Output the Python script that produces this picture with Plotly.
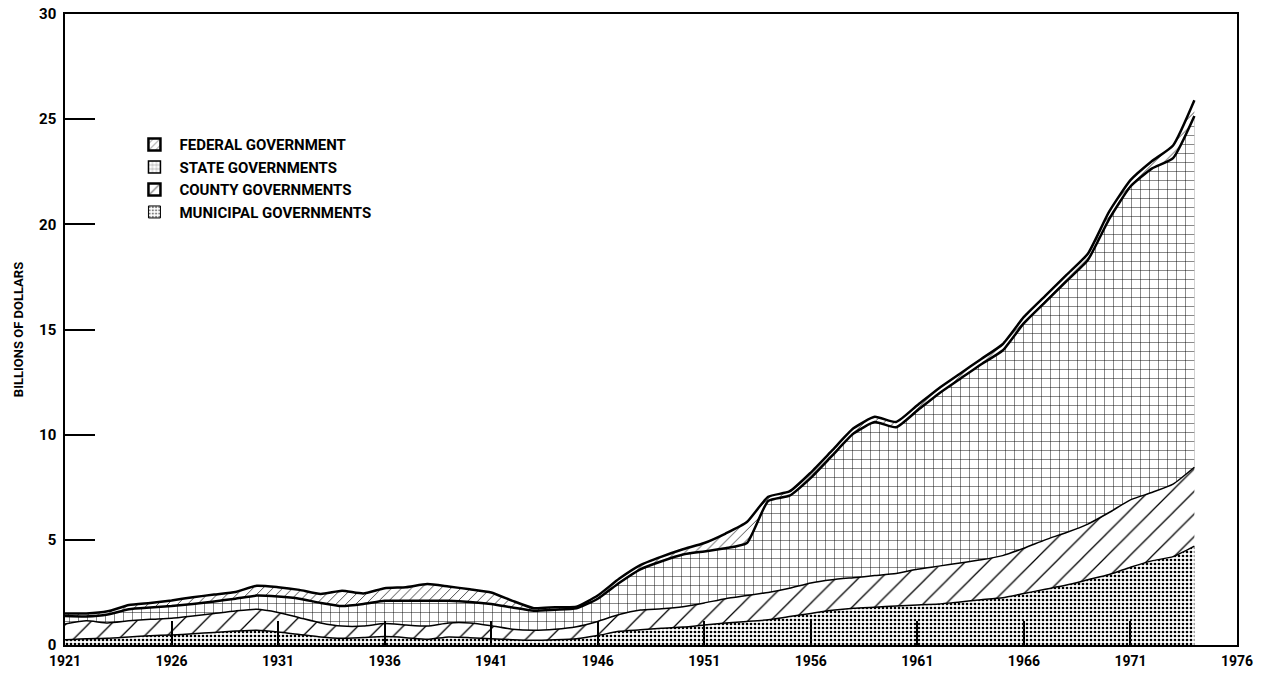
import plotly.graph_objects as go

years = list(range(1921, 1975))

municipal = [0.25, 0.30, 0.32, 0.38, 0.44, 0.48, 0.53, 0.60, 0.66, 0.70,
             0.62, 0.50, 0.38, 0.32, 0.36, 0.40, 0.35, 0.27, 0.38, 0.35,
             0.30, 0.25, 0.22, 0.25, 0.30, 0.45, 0.65, 0.72, 0.80, 0.85,
             0.95, 1.05, 1.12, 1.20, 1.35, 1.50, 1.65, 1.75, 1.80, 1.85,
             1.90, 1.95, 2.05, 2.15, 2.25, 2.45, 2.65, 2.85, 3.10, 3.35,
             3.70, 4.00, 4.20, 4.70]
county = [0.75, 0.85, 0.73, 0.77, 0.78, 0.79, 0.85, 0.90, 0.96, 1.00,
          0.93, 0.80, 0.67, 0.58, 0.54, 0.62, 0.60, 0.63, 0.67, 0.70,
          0.62, 0.50, 0.48, 0.50, 0.57, 0.67, 0.80, 0.94, 0.92, 0.97,
          1.05, 1.15, 1.23, 1.30, 1.35, 1.45, 1.45, 1.45, 1.50, 1.55,
          1.70, 1.80, 1.85, 1.90, 2.00, 2.15, 2.35, 2.50, 2.65, 2.95,
          3.20, 3.25, 3.45, 3.75]
state = [0.38, 0.21, 0.40, 0.55, 0.56, 0.58, 0.57, 0.57, 0.58, 0.65,
         0.75, 0.90, 0.95, 0.95, 1.05, 1.08, 1.15, 1.20, 1.05, 1.00,
         1.03, 1.03, 0.93, 0.93, 0.87, 1.08, 1.50, 1.94, 2.26, 2.48,
         2.45, 2.40, 2.50, 4.35, 4.40, 5.00, 5.90, 6.85, 7.30, 6.95,
         7.55, 8.20, 8.75, 9.30, 9.75, 10.70, 11.30, 11.95, 12.55, 13.95,
         14.90, 15.40, 15.50, 16.70]
federal = [0.12, 0.14, 0.15, 0.20, 0.22, 0.27, 0.32, 0.33, 0.32, 0.47,
           0.45, 0.42, 0.43, 0.73, 0.50, 0.60, 0.65, 0.80, 0.68, 0.60,
           0.55, 0.32, 0.12, 0.12, 0.08, 0.15, 0.20, 0.20, 0.22, 0.25,
           0.40, 0.70, 1.00, 0.20, 0.20, 0.25, 0.25, 0.25, 0.25, 0.25,
           0.25, 0.25, 0.25, 0.25, 0.30, 0.30, 0.30, 0.30, 0.30, 0.35,
           0.30, 0.35, 0.60, 0.75]

series_names = ["MUNICIPAL GOVERNMENTS", "COUNTY GOVERNMENTS",
                "STATE GOVERNMENTS", "FEDERAL GOVERNMENT"]

x_ticks = list(range(1921, 1977, 5))
y_ticks = [0, 5, 10, 15, 20, 25, 30]

FONT = "Roboto, Liberation Sans, Arial, sans-serif"

styles = [
    dict(shape=".", size=4, solidity=0.35, lw=1.5, leg_size=4, leg_sol=0.35, leg_lw=1),
    dict(shape="/", size=16, solidity=0.08, lw=1.5, leg_size=12, leg_sol=0.15, leg_lw=2.5),
    dict(shape="+", size=9, solidity=0.1, lw=2.5, leg_size=5, leg_sol=0.2, leg_lw=1.5),
    dict(shape="/", size=7, solidity=0.1, lw=2.5, leg_size=6, leg_sol=0.2, leg_lw=2.5),
]

fig = go.Figure()
for name, vals, st in zip(series_names, [municipal, county, state, federal], styles):
    fig.add_trace(go.Scatter(
        x=years, y=vals, name=name, mode="lines",
        stackgroup="gov", showlegend=False,
        line=dict(color="black", width=st["lw"], shape="spline", smoothing=0.5),
        fillcolor="white",
        fillpattern=dict(shape=st["shape"], size=st["size"], solidity=st["solidity"],
                         fgcolor="black", bgcolor="white", fgopacity=1),
    ))

# legend-only entries (box symbols with the same patterns)
for name, st in zip(series_names, styles):
    fig.add_trace(go.Bar(
        x=[None], y=[None], name=name, showlegend=True, legendgroup=name,
        marker=dict(color="white", line=dict(color="black", width=st["leg_lw"]),
                    pattern=dict(shape=st["shape"], size=st["leg_size"],
                                 solidity=st["leg_sol"], fgcolor="black",
                                 bgcolor="white")),
    ))

fig.update_layout(
    width=1263, height=674,
    margin=dict(l=65, r=26, t=14, b=29),
    paper_bgcolor="white", plot_bgcolor="white",
    font=dict(family=FONT, color="black", size=14, weight="bold"),
    showlegend=True,
    legend=dict(x=0.055, y=0.819, xanchor="left", yanchor="top",
                traceorder="reversed", bgcolor="rgba(0,0,0,0)",
                font=dict(family=FONT, size=15, weight="bold"),
                tracegroupgap=10, itemwidth=40),
    xaxis=dict(range=[1921, 1976], tickvals=x_ticks, ticktext=[str(v) for v in x_ticks],
               ticks="inside", ticklen=24, tickwidth=1.5, tickcolor="black",
               showline=True, linecolor="black", linewidth=1.5, mirror=True,
               showgrid=False, zeroline=False, automargin=False,
               ticklabelstandoff=2, ticklabeloverflow="allow",
               tickfont=dict(family=FONT, size=14, weight="bold")),
    yaxis=dict(range=[0, 30], tickvals=y_ticks, ticktext=[str(v) for v in y_ticks],
               ticks="inside", ticklen=30, tickwidth=1.5, tickcolor="black",
               showline=True, linecolor="black", linewidth=1.5, mirror=True,
               showgrid=False, zeroline=False, automargin=False,
               ticklabelstandoff=4, ticklabeloverflow="allow",
               title=dict(text="BILLIONS OF DOLLARS", standoff=12,
                          font=dict(family=FONT, size=13, weight="bold")),
               tickfont=dict(family=FONT, size=15, weight="bold")),
)

fig.write_html("out.html", config={"displayModeBar": False},
               post_script="document.body.style.margin='0';document.body.style.overflow='hidden';")
